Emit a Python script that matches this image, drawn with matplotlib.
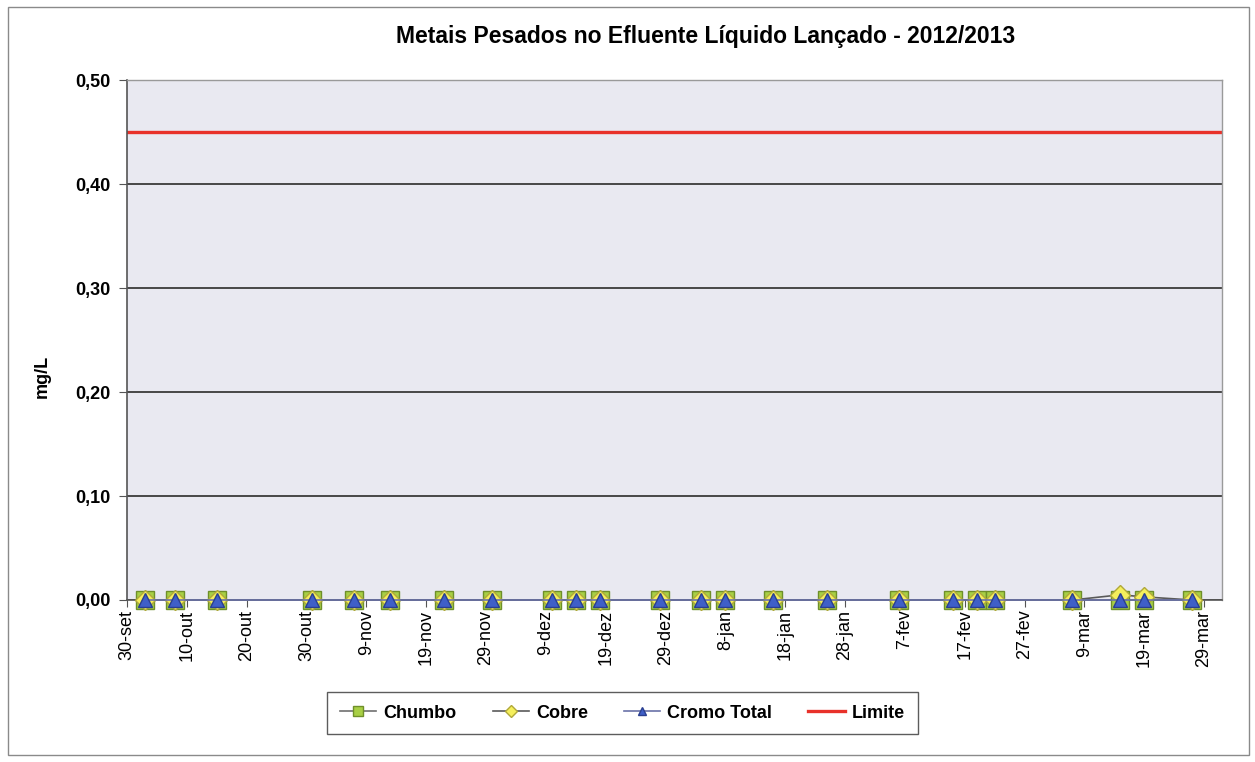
import matplotlib
matplotlib.use("Agg")
import matplotlib.pyplot as plt
import pandas as pd

plt.rcParams['font.family'] = ['Liberation Sans', 'DejaVu Sans']

# datas de coleta
datas = ['2012-10-03', '2012-10-08', '2012-10-15', '2012-10-31', '2012-11-07',
         '2012-11-13', '2012-11-22', '2012-11-30', '2012-12-10', '2012-12-14',
         '2012-12-18', '2012-12-28', '2013-01-04', '2013-01-08', '2013-01-16',
         '2013-01-25', '2013-02-06', '2013-02-15', '2013-02-19', '2013-02-22',
         '2013-03-07', '2013-03-15', '2013-03-19', '2013-03-27']
chumbo = [0.0] * 24
cobre = [0.0] * 21 + [0.005, 0.003, 0.0]
cromo = [0.0] * 24
limite = 0.45

meses = ['jan', 'fev', 'mar', 'abr', 'mai', 'jun',
         'jul', 'ago', 'set', 'out', 'nov', 'dez']

x = pd.to_datetime(datas)
inicio = pd.Timestamp('2012-09-30')
fim = pd.Timestamp('2013-04-01')

fig = plt.figure(figsize=(12.55, 7.62), dpi=100)
# moldura externa
fig.patches.append(plt.Rectangle((0.006, 0.009), 0.989, 0.982, transform=fig.transFigure,
                                 fill=False, edgecolor='#8a8a8a', linewidth=1.0))

ax = fig.add_axes([0.1012, 0.2126, 0.8725, 0.6824])
ax.set_facecolor('#e9e9f1')

ax.plot([inicio, fim], [limite, limite], color='#e8312a', linewidth=2.4, label='Limite', zorder=2)
ax.plot(x, chumbo, color='#6f6f6f', linewidth=1.2, marker='s', markersize=12.5,
        markerfacecolor='#a8cf45', markeredgecolor='#6f8f2a', label='Chumbo',
        zorder=3, clip_on=False)
ax.plot(x, cobre, color='#5a5a5a', linewidth=1.2, marker='D', markersize=10,
        markerfacecolor='#f5ef5c', markeredgecolor='#b0a83a', label='Cobre',
        zorder=4, clip_on=False)
ax.plot(x, cromo, color='#6a72a8', linewidth=1.2, marker='^', markersize=9.5,
        markerfacecolor='#3f5fc8', markeredgecolor='#2a3f90', label='Cromo Total',
        zorder=5, clip_on=False)

ax.set_xlim(inicio, fim)
ax.set_ylim(0, 0.5)
yticks = [0, 0.1, 0.2, 0.3, 0.4, 0.5]
ax.set_yticks(yticks)
ax.set_yticklabels([f'{v:.2f}'.replace('.', ',') for v in yticks],
                   fontsize=13, fontweight='bold')
ax.yaxis.grid(True, color='#3a3a3a', linewidth=1.3)
ax.set_axisbelow(True)

ticks = pd.date_range(inicio, periods=19, freq='10D')
ax.set_xticks(ticks)
ax.set_xticklabels([f'{d.day}-{meses[d.month - 1]}' for d in ticks], rotation=90, fontsize=13)
ax.tick_params(axis='x', length=5, color='#555555', pad=2)
ax.tick_params(axis='y', length=6, color='#555555', pad=6)

for s in ['top', 'right']:
    ax.spines[s].set_color('#9a9a9a')
    ax.spines[s].set_linewidth(1.0)
for s in ['left', 'bottom']:
    ax.spines[s].set_color('#555555')
    ax.spines[s].set_linewidth(1.2)

ax.set_ylabel('mg/L', fontsize=13, fontweight='bold')
ax.yaxis.set_label_coords(-0.07, 0.43)
ax.set_title('Metais Pesados no Efluente Líquido Lançado - 2012/2013',
             fontsize=16.5, fontweight='bold', pad=27, x=0.528)

handles, labels = ax.get_legend_handles_labels()
order = [1, 2, 3, 0]
leg = fig.legend([handles[i] for i in order], [labels[i] for i in order],
                 loc='center', bbox_to_anchor=(0.496, 0.064), ncol=4, frameon=True,
                 fancybox=False, edgecolor='#333333',
                 prop={'weight': 'bold', 'size': 13}, columnspacing=2.0,
                 handlelength=2.0, handletextpad=0.4, borderpad=0.7, markerscale=0.6)
leg.get_frame().set_linewidth(1.0)

fig.savefig('out.png', dpi=100)
